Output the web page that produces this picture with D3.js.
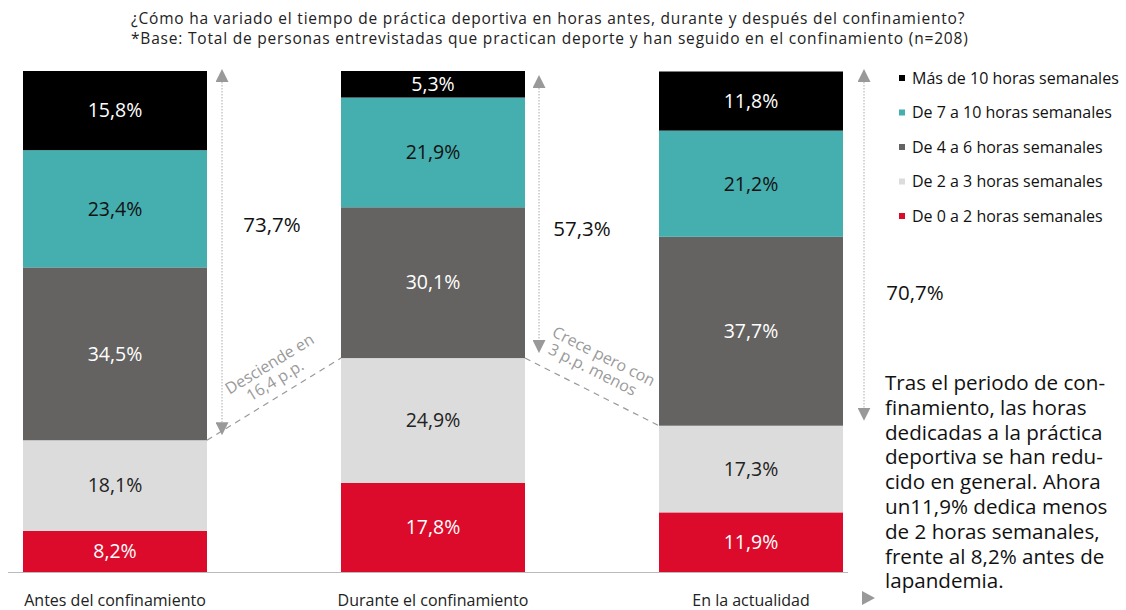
<!DOCTYPE html>
<html>
<head>
<meta charset="utf-8">
<script src="https://cdn.jsdelivr.net/npm/d3@7"></script>
<style>
  body { margin: 0; background: #fff; }
  svg { display: block; font-family: "Open Sans", sans-serif; }
</style>
</head>
<body>
<svg id="chart"></svg>
<script>
/// DATA ///
const categories = ["Antes del confinamiento", "Durante el confinamiento", "En la actualidad"];
const seriesNames = ["De 0 a 2 horas semanales", "De 2 a 3 horas semanales", "De 4 a 6 horas semanales",
  "De 7 a 10 horas semanales", "Más de 10 horas semanales"];
const de0a2 = [8.2, 17.8, 11.9];
const de2a3 = [18.1, 24.9, 17.3];
const de4a6 = [34.5, 30.1, 37.7];
const de7a10 = [23.4, 21.9, 21.2];
const mas10 = [15.8, 5.3, 11.8];
const totalLabels = ["73,7%", "57,3%", "70,7%"];
const changeLabels = [["Desciende en", "16,4 p.p."], ["Crece pero con", "3 p.p. menos"]];
const titleLines = [
  "¿Cómo ha variado el tiempo de práctica deportiva en horas antes, durante y después del confinamiento?",
  "*Base: Total de personas entrevistadas que practican deporte y han seguido en el confinamiento (n=208)"
];
const noteLines = ["Tras el periodo de con-", "finamiento, las horas", "dedicadas a la práctica",
  "deportiva se han redu-", "cido en general. Ahora", "un11,9% dedica menos",
  "de 2 horas semanales,", "frente al 8,2% antes de", "lapandemia."];

const W = 1126, H = 610;
const svg = d3.select("#chart").attr("width", W).attr("height", H);

// build rows for stacking
const rows = categories.map((c, i) => ({
  cat: c,
  [seriesNames[0]]: de0a2[i],
  [seriesNames[1]]: de2a3[i],
  [seriesNames[2]]: de4a6[i],
  [seriesNames[3]]: de7a10[i],
  [seriesNames[4]]: mas10[i]
}));
const stack = d3.stack().keys(seriesNames)(rows);

// SCALES
const x = d3.scaleBand().domain(categories).range([23, 843]).paddingInner(134 / 318).paddingOuter(0);
const y = d3.scaleLinear().domain([0, 100]).range([572, 71]);
const color = d3.scaleOrdinal().domain(seriesNames)
  .range(["#dc0b2b", "#dcdcdc", "#646361", "#45aeae", "#000000"]);
const textColor = d3.scaleOrdinal().domain(seriesNames)
  .range(["#fff", "#222", "#fff", "#111", "#fff"]);

// TITLE
svg.append("g").selectAll("text")
  .data(titleLines)
  .join("text")
  .attr("x", 131)
  .attr("y", (d, i) => 24 + i * 20)
  .style("font-size", "15.5px")
  .style("letter-spacing", "0.8px")
  .style("fill", "#222")
  .text(d => d);

// BARS
const layer = svg.append("g").selectAll("g")
  .data(stack)
  .join("g");

layer.selectAll("rect")
  .data(d => d.map(p => ({ key: d.key, p })))
  .join("rect")
  .attr("x", d => x(d.p.data.cat))
  .attr("y", d => y(d.p[1]))
  .attr("width", x.bandwidth())
  .attr("height", d => y(d.p[0]) - y(d.p[1]))
  .attr("fill", d => color(d.key));

layer.selectAll("text")
  .data(d => d.map(p => ({ key: d.key, p })))
  .join("text")
  .attr("x", d => x(d.p.data.cat) + x.bandwidth() / 2)
  .attr("y", d => (y(d.p[0]) + y(d.p[1])) / 2)
  .attr("dy", "0.35em")
  .attr("text-anchor", "middle")
  .style("font-size", "19.5px")
  .style("fill", d => textColor(d.key))
  .text(d => (d.p[1] - d.p[0]).toFixed(1).replace(".", ",") + "%");

// AXIS LINE + LABELS
svg.append("line")
  .attr("x1", 8).attr("x2", 848)
  .attr("y1", y(0) + 0.5).attr("y2", y(0) + 0.5)
  .attr("stroke", "#bbb").attr("stroke-width", 1);

svg.append("g").selectAll("text")
  .data(categories)
  .join("text")
  .attr("x", d => x(d) + x.bandwidth() / 2)
  .attr("y", 606)
  .attr("text-anchor", "middle")
  .style("font-size", "16px")
  .style("fill", "#222")
  .text(d => d);

svg.append("path")
  .attr("d", "M862,591 L875,598 L862,605 Z")
  .attr("fill", "#999");

// ARROWS (share of 4+ hours)
const defs = svg.append("defs");
["start", "end"].forEach(k => {
  defs.append("marker")
    .attr("id", "arr-" + k)
    .attr("viewBox", "0 0 10 10")
    .attr("refX", 5).attr("refY", 10)
    .attr("markerWidth", 13).attr("markerHeight", 13)
    .attr("markerUnits", "userSpaceOnUse")
    .attr("orient", k === "start" ? "0" : "180")
    .append("path")
    .attr("d", "M0,10 L5,0 L10,10 Z")
    .attr("fill", "#999");
});

const arrowDx = [15, 14, 21];
const labelDx = [65, 57, 72];
const labelDy = [225, 229, 293];
const arrowTop = [82, 88, 82];
categories.forEach((c, i) => {
  const right = x(c) + x.bandwidth();
  const lowBound = y(de0a2[i] + de2a3[i]);
  const ax = right + arrowDx[i];
  svg.append("line")
    .attr("x1", ax).attr("x2", ax)
    .attr("y1", arrowTop[i]).attr("y2", lowBound - 18)
    .attr("stroke", "#aaa").attr("stroke-width", 1)
    .attr("stroke-dasharray", "1.5,1.5")
    .attr("marker-start", "url(#arr-start)")
    .attr("marker-end", "url(#arr-end)");
  svg.append("text")
    .attr("x", right + labelDx[i])
    .attr("y", labelDy[i])
    .attr("dy", "0.35em")
    .attr("text-anchor", "middle")
    .style("font-size", "20.5px")
    .style("fill", "#111")
    .text(totalLabels[i]);
});

// DASHED CONNECTORS + CHANGE NOTES
for (let i = 0; i < 2; i++) {
  const x1 = x(categories[i]) + x.bandwidth();
  const y1 = y(de0a2[i] + de2a3[i]);
  const x2 = x(categories[i + 1]);
  const y2 = y(de0a2[i + 1] + de2a3[i + 1]);
  svg.append("line")
    .attr("x1", x1).attr("y1", y1).attr("x2", x2).attr("y2", y2)
    .attr("stroke", "#999").attr("stroke-width", 1.2)
    .attr("stroke-dasharray", "6,5");
  const ang = Math.atan2(y2 - y1, x2 - x1) * 180 / Math.PI;
  const mx = (x1 + x2) / 2 + (i === 0 ? 0 : 8);
  const my = (y1 + y2) / 2 - 28;
  const g = svg.append("g").attr("transform", `translate(${mx},${my}) rotate(${ang})`);
  g.selectAll("text")
    .data(changeLabels[i])
    .join("text")
    .attr("x", (d, j) => j === 0 ? 0 : -4)
    .attr("y", (d, j) => j === 0 ? -3 : 14)
    .attr("text-anchor", "middle")
    .style("font-size", "16px")
    .style("fill", "#9a9a9a")
    .text(d => d);
}

// LEGEND
const legendOrder = seriesNames.slice().reverse();
const legend = svg.append("g").selectAll("g")
  .data(legendOrder)
  .join("g")
  .attr("transform", (d, i) => `translate(899, ${78 + i * 34.5})`);
legend.append("rect")
  .attr("x", 0).attr("y", -3)
  .attr("width", 6).attr("height", 6)
  .attr("fill", d => color(d));
legend.append("text")
  .attr("x", 13)
  .attr("dy", "0.35em")
  .style("font-size", "16px")
  .style("fill", "#111")
  .text(d => d);

// NOTE
svg.append("text")
  .attr("x", 885)
  .attr("y", 390)
  .style("font-size", "20.6px")
  .style("fill", "#111")
  .selectAll("tspan")
  .data(noteLines)
  .join("tspan")
  .attr("x", 885)
  .attr("dy", (d, i) => i === 0 ? 0 : 24.8)
  .text(d => d);
</script>
</body>
</html>
